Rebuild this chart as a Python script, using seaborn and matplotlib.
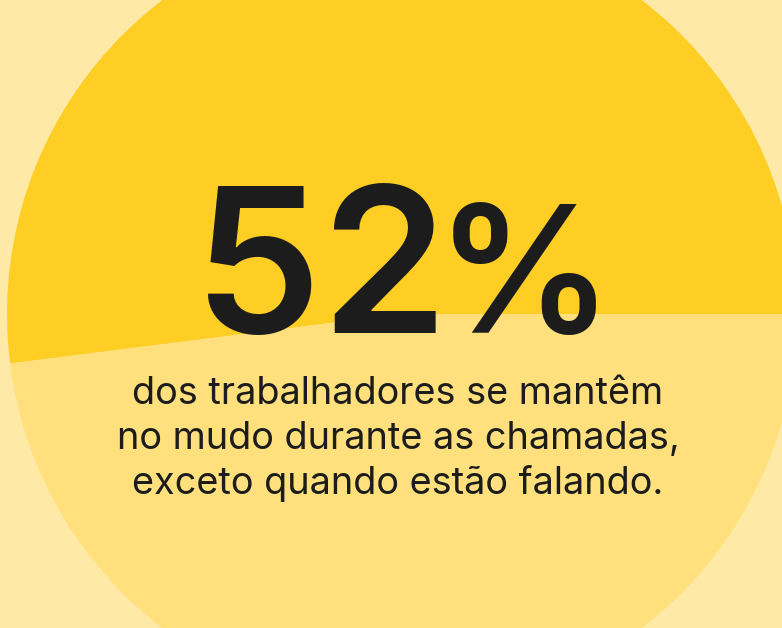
import matplotlib
matplotlib.use("Agg")
import matplotlib.pyplot as plt
import seaborn as sns

labels = ["Mantêm no mudo", "Outros"]
values = [52, 48]
slice_colors = ["#FFCE25", "#FFE07C"]
headline_number = "52"
headline_unit = "%"
caption_lines = ["dos trabalhadores se mantêm",
                 "no mudo durante as chamadas,",
                 "exceto quando estão falando."]

sns.set_theme(style="white")
plt.rcParams['font.family'] = ['Inter', 'DejaVu Sans']

W, H = 782, 628
fig = plt.figure(figsize=(W / 100, H / 100), dpi=100)
fig.patch.set_facecolor("#FFE9A7")
ax = fig.add_axes([0, 0, 1, 1])
ax.set_facecolor("#FFE9A7")
ax.pie(values, colors=slice_colors, startangle=0, counterclock=True,
       radius=395, center=(402, H - 314), frame=True,
       wedgeprops=dict(linewidth=0))
ax.set_xlim(0, W)
ax.set_ylim(0, H)
ax.set_aspect("equal")
ax.axis("off")

ax.text(321, H - 333, headline_number, ha="center", va="baseline",
        fontsize=146, fontweight="semibold", color="#1C1C1C")
ax.text(524, H - 333, headline_unit, ha="center", va="baseline",
        fontsize=127, fontweight="semibold", color="#1C1C1C")

for i, line in enumerate(caption_lines):
    ax.text(398, H - 404 - 45 * i, line, ha="center", va="baseline",
            fontsize=27.3, color="#1C1C1C")

fig.savefig("out.png", dpi=100, facecolor=fig.get_facecolor())
